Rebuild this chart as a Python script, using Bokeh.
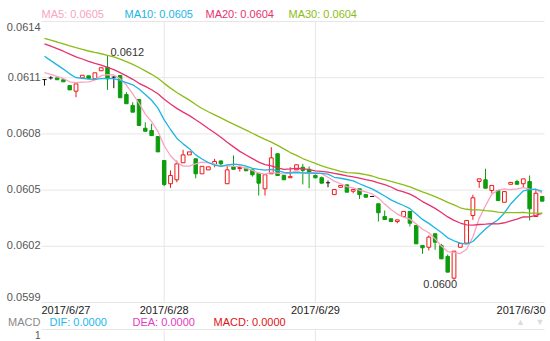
import numpy as np
import pandas as pd
from bokeh.plotting import figure
from bokeh.models import Label, Range1d, ColumnDataSource
from bokeh.embed import file_html
from bokeh.resources import INLINE

# ---------------- data ----------------
dates = ["2017/6/27", "2017/6/28", "2017/6/29", "2017/6/30"]
day_start_idx = [19, 43]          # candle index where 6/28 and 6/29 begin
y_ticks = [0.0614, 0.0611, 0.0608, 0.0605, 0.0602, 0.0599]

# hourly closes before the visible window (needed for the moving averages)
prior_close = [0.061379, 0.061373, 0.061368, 0.061368, 0.061363, 0.061368, 0.061363, 0.061363,
               0.061357, 0.061357, 0.061357, 0.061352, 0.061352, 0.061347, 0.061352, 0.061347,
               0.061347, 0.061341, 0.061341, 0.061339, 0.061336, 0.061314, 0.061304, 0.061288,
               0.061272, 0.061144, 0.061144, 0.061133, 0.061122]

open_ = [0.061090, 0.061099, 0.061099, 0.061089, 0.061058, 0.061028, 0.061099, 0.061110, 0.061094, 0.061137,
         0.061156, 0.061103, 0.061112, 0.061010, 0.060952, 0.060984, 0.060830, 0.060818, 0.060786, 0.060658,
         0.060534, 0.060555, 0.060646, 0.060688, 0.060667, 0.060587, 0.060608, 0.060637, 0.060656, 0.060534,
         0.060626, 0.060615, 0.060617, 0.060608, 0.060590, 0.060507, 0.060587, 0.060694, 0.060578, 0.060566,
         0.060608, 0.060622, 0.060611, 0.060578, 0.060566, 0.060539, 0.060476, 0.060515, 0.060528, 0.060494,
         0.060507, 0.060476, 0.060466, 0.060427, 0.060359, 0.060347, 0.060332, 0.060359, 0.060386, 0.060311,
         0.060204, 0.060195, 0.060267, 0.060204, 0.060146, 0.060030, 0.060195, 0.060217, 0.060364, 0.060546,
         0.060555, 0.060498, 0.060498, 0.060435, 0.060531, 0.060546, 0.060534, 0.060546, 0.060359, 0.060466]

high = [0.061090, 0.061108, 0.061099, 0.061089, 0.061058, 0.061067, 0.061113, 0.061110, 0.061126, 0.061153,
        0.061215, 0.061108, 0.061112, 0.061023, 0.060969, 0.060984, 0.060862, 0.060854, 0.060786, 0.060658,
        0.060605, 0.060658, 0.060715, 0.060704, 0.060667, 0.060627, 0.060624, 0.060667, 0.060656, 0.060631,
        0.060685, 0.060631, 0.060617, 0.060608, 0.060590, 0.060582, 0.060729, 0.060697, 0.060578, 0.060622,
        0.060635, 0.060640, 0.060626, 0.060583, 0.060572, 0.060551, 0.060503, 0.060525, 0.060528, 0.060503,
        0.060507, 0.060476, 0.060468, 0.060427, 0.060391, 0.060347, 0.060341, 0.060386, 0.060386, 0.060311,
        0.060204, 0.060258, 0.060267, 0.060213, 0.060156, 0.060174, 0.060215, 0.060338, 0.060475, 0.060560,
        0.060614, 0.060525, 0.060498, 0.060492, 0.060541, 0.060555, 0.060560, 0.060578, 0.060507, 0.060466]

low = [0.061058, 0.061090, 0.061089, 0.061078, 0.061035, 0.060996, 0.061099, 0.061096, 0.061094, 0.061137,
       0.061035, 0.061044, 0.060993, 0.060961, 0.060916, 0.060845, 0.060814, 0.060791, 0.060704, 0.060521,
       0.060512, 0.060542, 0.060646, 0.060688, 0.060563, 0.060587, 0.060608, 0.060622, 0.060626, 0.060534,
       0.060611, 0.060599, 0.060603, 0.060572, 0.060471, 0.060471, 0.060587, 0.060578, 0.060555, 0.060566,
       0.060608, 0.060530, 0.060510, 0.060562, 0.060537, 0.060515, 0.060476, 0.060515, 0.060489, 0.060483,
       0.060453, 0.060462, 0.060464, 0.060332, 0.060343, 0.060332, 0.060323, 0.060359, 0.060306, 0.060213,
       0.060160, 0.060178, 0.060181, 0.060133, 0.060062, 0.060021, 0.060195, 0.060217, 0.060341, 0.060512,
       0.060510, 0.060483, 0.060444, 0.060435, 0.060531, 0.060531, 0.060515, 0.060338, 0.060359, 0.060441]

close = [0.061090, 0.061099, 0.061089, 0.061078, 0.061035, 0.061067, 0.061113, 0.061096, 0.061126, 0.061153,
         0.061094, 0.061103, 0.060993, 0.060961, 0.060916, 0.060845, 0.060814, 0.060791, 0.060704, 0.060530,
         0.060578, 0.060640, 0.060688, 0.060704, 0.060587, 0.060627, 0.060624, 0.060653, 0.060640, 0.060608,
         0.060611, 0.060621, 0.060603, 0.060582, 0.060537, 0.060582, 0.060672, 0.060578, 0.060555, 0.060572,
         0.060635, 0.060605, 0.060595, 0.060566, 0.060537, 0.060539, 0.060503, 0.060525, 0.060489, 0.060503,
         0.060476, 0.060462, 0.060466, 0.060379, 0.060343, 0.060332, 0.060341, 0.060386, 0.060323, 0.060213,
         0.060192, 0.060249, 0.060222, 0.060133, 0.060062, 0.060174, 0.060215, 0.060338, 0.060459, 0.060560,
         0.060510, 0.060525, 0.060444, 0.060492, 0.060541, 0.060531, 0.060560, 0.060400, 0.060483, 0.060441]

ma_periods = [5, 10, 20, 30]
ma_colors = ["#f7a3c1", "#1cb5e4", "#e8326e", "#8bbd17"]
macd_names = ["DIF", "DEA", "MACD"]
macd_values = [0.0, 0.0, 0.0]
macd_colors = ["#1cb8ee", "#e03cc4", "#dd1515"]
macd_axis_label = "1"

# ---------------- layout helpers (screen pixel -> data) ----------------
X0_PX, DX_PX = 44.0, 6.3
PY_TOP, PY_BOT = 21.0, 302.0
Y_TOP, Y_BOT = y_ticks[0], y_ticks[-1]
def px_x(px):
    return (px - X0_PX) / DX_PX
def px_y(py):
    return Y_TOP - (py - PY_TOP) * (Y_TOP - Y_BOT) / (PY_BOT - PY_TOP)

FONT = "Liberation Sans"
RED, GREEN, BLACK = "#f01818", "#0c9c0c", "#111111"
GRID = "#e6e6e6"

# ---------------- derived ----------------
n = len(close)
idx = np.arange(n)
o, h, l, c = map(np.array, (open_, high, low, close))
series = pd.Series(prior_close + close)
mas = {per: series.rolling(per).mean().to_numpy()[len(prior_close):] for per in ma_periods}

p = figure(width=550, height=341, output_backend="svg", toolbar_location=None,
           x_range=Range1d(px_x(0), px_x(550)), y_range=Range1d(px_y(341), px_y(0)),
           x_axis_location=None, y_axis_location=None, min_border=0)
p.xgrid.visible = False
p.ygrid.visible = False
p.outline_line_color = None
p.background_fill_color = "white"
p.border_fill_color = "white"

# grid
xl, xr = px_x(41), px_x(544)
p.segment(x0=[xl] * len(y_ticks), x1=[xr] * len(y_ticks), y0=y_ticks, y1=y_ticks,
          line_color=GRID, line_width=1)
p.segment(x0=day_start_idx, x1=day_start_idx, y0=[Y_BOT] * 2, y1=[Y_TOP] * 2,
          line_color=GRID, line_width=1)
# MACD panel (top part)
macd_top = px_y(329)
p.segment(x0=[xl], x1=[xr], y0=[macd_top], y1=[macd_top], line_color=GRID, line_width=1)
p.segment(x0=day_start_idx, x1=day_start_idx, y0=[macd_top] * 2, y1=[px_y(341)] * 2,
          line_color=GRID, line_width=1)

# candles
def sel(mask):
    return ColumnDataSource(dict(x=idx[mask], o=o[mask], h=h[mask], l=l[mask], c=c[mask],
                                 top=np.maximum(o, c)[mask], bot=np.minimum(o, c)[mask],
                                 xa=idx[mask] - 0.33, xb=idx[mask] + 0.33))

up, down, flat = c > o, c < o, c == o
s_up, s_dn, s_fl = sel(up), sel(down), sel(flat)
p.segment(x0="x", x1="x", y0="l", y1="h", source=s_dn, line_color=GREEN, line_width=1)
p.vbar(x="x", top="top", bottom="bot", width=0.55, source=s_dn, fill_color=GREEN, line_color=GREEN, line_width=1)
p.segment(x0="x", x1="x", y0="l", y1="h", source=s_up, line_color=RED, line_width=1)
p.vbar(x="x", top="top", bottom="bot", width=0.6, source=s_up, fill_color="white", line_color=RED, line_width=1)
p.segment(x0="x", x1="x", y0="l", y1="h", source=s_fl, line_color=BLACK, line_width=1)
p.segment(x0="xa", x1="xb", y0="c", y1="c", source=s_fl, line_color=BLACK, line_width=1)

# moving averages
for per, col in zip(ma_periods, ma_colors):
    p.line(idx, mas[per], line_color=col, line_width=1.3)

def lab(x, y, text, color, align="left", baseline="middle", size="11px", xo=0, yo=0):
    p.add_layout(Label(x=x, y=y, text=text, text_color=color, text_font=FONT,
                       text_font_size=size, text_align=align, text_baseline=baseline,
                       x_offset=xo, y_offset=yo))

# legend
for per, col, xpx in zip(ma_periods, ma_colors, [41, 124, 205, 288]):
    lab(px_x(xpx), px_y(13), f"MA{per}: {mas[per][-1]:.4f}", col)

# y tick labels
for i, t in enumerate(y_ticks):
    if i == 0:
        lab(px_x(40), t, f"{t:.4f}", "#555555", align="right", baseline="top", yo=-1)
    elif i == len(y_ticks) - 1:
        lab(px_x(40), t, f"{t:.4f}", "#555555", align="right", baseline="bottom", yo=2)
    else:
        lab(px_x(40), t, f"{t:.4f}", "#555555", align="right", baseline="middle", yo=1)

# date labels
ydate = px_y(309)
lab(px_x(41), ydate, dates[0], "#222222", align="left")
lab(day_start_idx[0], ydate, dates[1], "#222222", align="center")
lab(day_start_idx[1], ydate, dates[2], "#222222", align="center")
lab(px_x(545), ydate, dates[3], "#222222", align="right")

# max / min markers
imax, imin = int(np.argmax(h)), int(np.argmin(l))
lab(imax, h[imax], f"{h[imax]:.4f}", "#333333", align="left", baseline="bottom", xo=3)
lab(imin, l[imin], f"{l[imin]:.4f}", "#333333", align="right", baseline="top", xo=3)

# MACD header
ym = px_y(321)
lab(px_x(40), ym, "MACD", "#8a8a8a", align="right")
for name, val, col, xpx in zip(macd_names, macd_values, macd_colors, [49, 132, 213]):
    lab(px_x(xpx), ym, f"{name}: {val:.4f}", col)
lab(px_x(520), ym, "▲", "#dcdcdc", align="center", size="9px")
lab(px_x(539.5), ym, "▼", "#dcdcdc", align="center", size="9px")
lab(px_x(40), px_y(334.5), macd_axis_label, "#555555", align="right", size="10px")

open("out.html", "w").write(file_html(p, INLINE))
